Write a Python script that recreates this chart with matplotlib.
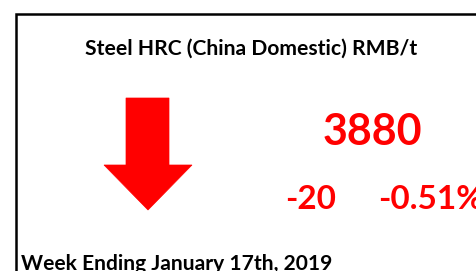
import matplotlib.pyplot as plt
from matplotlib.patches import Polygon

title = 'Steel HRC (China Domestic) RMB/t'
week_label = 'Week Ending January 17th, 2019'
price = 3880
change = -20
change_pct = -0.51

red = '#ff0000'
font = ['Lato', 'DejaVu Sans']

fig = plt.figure(figsize=(4.76, 2.71), dpi=100)
ax = fig.add_axes([0, 0, 1, 1])
ax.set_xlim(0, 476)
ax.set_ylim(271, 0)
ax.axis('off')

# frame: only the left and top edges show in the crop
ax.plot([16, 16, 480], [275, 14, 14], color='black', lw=1.8, solid_joinstyle='miter')

ax.text(251, 55, title, ha='center', va='baseline', fontsize=15.2,
        fontweight='bold', family=font, color='black')

# down arrow
arrow = [(126, 98), (169, 98), (169, 165), (192, 165), (148, 210),
         (104, 165), (126, 165)]
ax.add_patch(Polygon(arrow, closed=True, facecolor=red, edgecolor=red, lw=0.5))

ax.text(372, 145, f'{price}', ha='center', va='baseline', fontsize=31,
        fontweight='bold', family=font, color=red)
ax.text(311, 209, f'{change}', ha='center', va='baseline', fontsize=24,
        fontweight='bold', family=font, color=red)
ax.text(378, 209, f'{change_pct:.2f}%', ha='left', va='baseline', fontsize=24,
        fontweight='bold', family=font, color=red)

ax.text(21, 270, week_label, ha='left', va='baseline', fontsize=15.1,
        fontweight='bold', family=font, color='black')

fig.savefig('out.png', dpi=100)
